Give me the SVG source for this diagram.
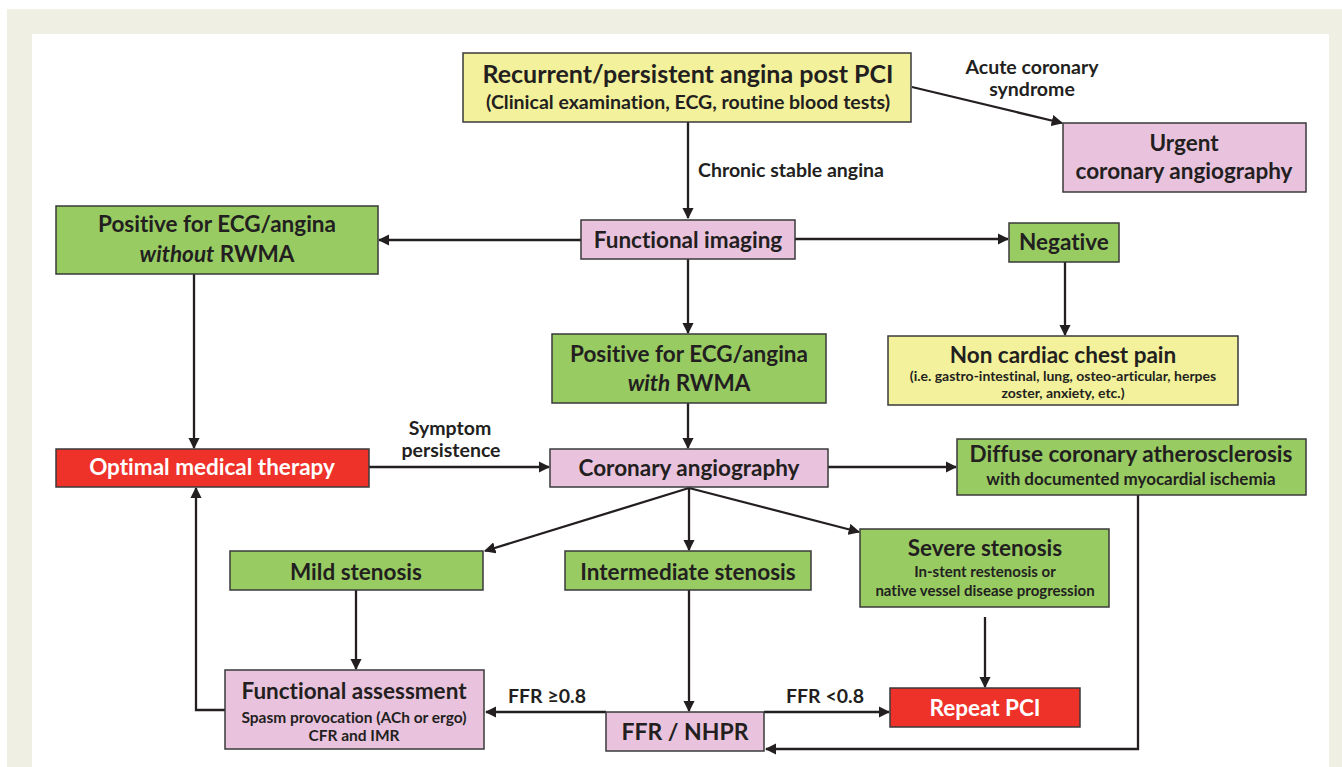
<svg xmlns="http://www.w3.org/2000/svg" width="1342" height="767" viewBox="0 0 1342 767">
<style>
.bx{stroke:#3a3a3a;stroke-width:1.5}
.y{fill:#f3f19b}.p{fill:#e9c3de}.g{fill:#98cc63}.r{fill:#ee3129}
text{font-family:Lato,"Liberation Sans",sans-serif;font-weight:bold;fill:#231f20;text-anchor:middle;font-variant-ligatures:none}
.w{fill:#ffffff}
.l{font-size:19.5px}
.m{font-size:22.5px}
.c path{fill:none;stroke:#231f20;stroke-width:2.3;marker-end:url(#ah)}
</style>
<defs>
<marker id="ah" viewBox="0 0 10 10" refX="9" refY="5" markerWidth="5" markerHeight="5" orient="auto" markerUnits="strokeWidth">
<path d="M0 0L10 5L0 10z" fill="#231f20"/>
</marker>
</defs>
<rect x="0" y="0" width="1342" height="767" fill="#ffffff"/>
<rect x="7" y="9" width="1335" height="758" fill="#efefe3"/>
<rect x="32" y="34" width="1297" height="733" fill="#ffffff"/>

<g class="c">
<path d="M688 122V218"/>
<path d="M912 87L1062 123"/>
<path d="M581 240H379"/>
<path d="M795 239H1008"/>
<path d="M688 259V333"/>
<path d="M1065 262V335"/>
<path d="M194 274V448"/>
<path d="M688 403V448"/>
<path d="M369 467H549"/>
<path d="M828 467H956"/>
<path d="M689 488L485 551"/>
<path d="M689 488V550"/>
<path d="M689 488L859 532"/>
<path d="M356 590V669"/>
<path d="M689 590V711"/>
<path d="M985 617V687"/>
<path d="M606 712H486"/>
<path d="M764 712H889"/>
<path d="M1138 495V749H766"/>
<path d="M225 710H196V488"/>
</g>

<g id="n-top"><rect class="bx y" x="463" y="53" width="448" height="69"/>
<text x="688" y="83" style="font-size:25px">Recurrent/persistent angina post PCI</text>
<text x="688" y="109" style="font-size:19.5px">(Clinical examination, ECG, routine blood tests)</text></g>

<g id="n-urgent"><rect class="bx p" x="1063" y="123" width="243" height="69"/>
<text class="m" x="1184" y="151">Urgent</text>
<text class="m" x="1184" y="179">coronary angiography</text></g>

<g id="n-fi"><rect class="bx p" x="581" y="220" width="214" height="39"/>
<text class="m" x="688" y="248">Functional imaging</text></g>

<g id="n-posw"><rect class="bx g" x="56" y="206" width="322" height="68"/>
<text class="m" x="217" y="232">Positive for ECG/angina</text>
<text class="m" x="217" y="262"><tspan font-style="italic">without</tspan> RWMA</text></g>

<g id="n-neg"><rect class="bx g" x="1009" y="223" width="110" height="39"/>
<text class="m" x="1064" y="250">Negative</text></g>

<g id="n-poswith"><rect class="bx g" x="552" y="334" width="274" height="69"/>
<text class="m" x="689" y="362">Positive for ECG/angina</text>
<text class="m" x="689" y="391"><tspan font-style="italic">with</tspan> RWMA</text></g>

<g id="n-ncp"><rect class="bx y" x="888" y="336" width="350" height="69"/>
<text class="m" x="1063" y="363">Non cardiac chest pain</text>
<text x="1063" y="381" style="font-size:14px">(i.e. gastro-intestinal, lung, osteo-articular, herpes</text>
<text x="1063" y="398" style="font-size:14px">zoster, anxiety, etc.)</text></g>

<g id="n-omt"><rect class="bx r" x="56" y="449" width="313" height="38"/>
<text class="m w" x="212" y="475">Optimal medical therapy</text></g>

<g id="n-ca"><rect class="bx p" x="550" y="449" width="278" height="38"/>
<text class="m" x="689" y="476">Coronary angiography</text></g>

<g id="n-diffuse"><rect class="bx g" x="957" y="439" width="349" height="56"/>
<text class="m" x="1131" y="462">Diffuse coronary atherosclerosis</text>
<text x="1131" y="485" style="font-size:17px">with documented myocardial ischemia</text></g>

<g id="n-mild"><rect class="bx g" x="230" y="551" width="253" height="39"/>
<text class="m" x="356" y="580">Mild stenosis</text></g>

<g id="n-inter"><rect class="bx g" x="565" y="551" width="246" height="39"/>
<text class="m" x="688" y="580">Intermediate stenosis</text></g>

<g id="n-severe"><rect class="bx g" x="860" y="529" width="249" height="78"/>
<text class="m" x="985" y="556">Severe stenosis</text>
<text x="985" y="577" style="font-size:15px">In-stent restenosis or</text>
<text x="985" y="596" style="font-size:15px">native vessel disease progression</text></g>

<g id="n-fa"><rect class="bx p" x="225" y="670" width="259" height="79"/>
<text class="m" x="354" y="699">Functional assessment</text>
<text x="354" y="723" style="font-size:15.5px">Spasm provocation (ACh or ergo)</text>
<text x="354" y="741" style="font-size:15.5px">CFR and IMR</text></g>

<g id="n-ffr"><rect class="bx p" x="606" y="712" width="158" height="39"/>
<text x="685" y="740" style="font-size:23px">FFR / NHPR</text></g>

<g id="n-repeat"><rect class="bx r" x="890" y="688" width="190" height="39"/>
<text class="m w" x="985" y="716">Repeat PCI</text></g>

<g id="labels">
<text class="l" x="698" y="177" style="text-anchor:start">Chronic stable angina</text>
<text class="l" x="1032" y="74">Acute coronary</text>
<text class="l" x="1032" y="96">syndrome</text>
<text class="l" x="450" y="435">Symptom</text>
<text class="l" x="451" y="457">persistence</text>
<text class="l" x="547" y="703">FFR ≥0.8</text>
<text class="l" x="825" y="703">FFR &lt;0.8</text>
</g>
</svg>
